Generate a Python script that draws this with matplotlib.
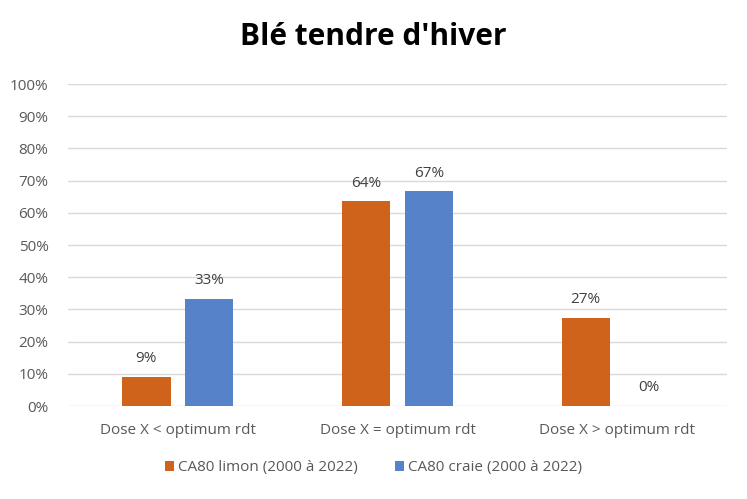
import matplotlib.pyplot as plt
from matplotlib.ticker import PercentFormatter
import numpy as np

# Data.
categories = ["Dose X < optimum rdt", "Dose X = optimum rdt", "Dose X > optimum rdt"]
limon      = [9.1, 63.6, 27.3]
craie      = [33.3, 66.7, 0.0]
series_names = ["CA80 limon (2000 à 2022)", "CA80 craie (2000 à 2022)"]

plt.rcParams['font.family'] = ['Open Sans', 'DejaVu Sans']

fig = plt.figure(figsize=(7.47, 4.99), dpi=100)
ax  = fig.add_axes([68/747, 1-406/499, 659/747, 322/499])

x      = np.arange(len(categories))
width  = 0.22
offset = 0.143
orange = "#D0631C"
blue   = "#5582C8"

bars1 = ax.bar(x - offset, limon, width, color=orange, label=series_names[0], zorder=3)
bars2 = ax.bar(x + offset, craie, width, color=blue, label=series_names[1], zorder=3)

for bars, vals in ((bars1, limon), (bars2, craie)):
  for b, v in zip(bars, vals):
    ax.text(b.get_x() + b.get_width()/2, v + 3.3, f"{v:.0f}%", ha='center', va='bottom',
            fontsize=11, color="#404040")

# Style the axes.
ax.set_xlim(-0.5, 2.5)
ax.set_ylim(0, 100)
ax.set_yticks(np.arange(0, 101, 10))
ax.yaxis.set_major_formatter(PercentFormatter(decimals=0))
ax.set_xticks(x)
ax.set_xticklabels(categories)
ax.grid(axis='y', color="#D9D9D9", linewidth=1, zorder=0)
for s in ax.spines.values():
  s.set_visible(False)
ax.tick_params(length=0, labelsize=11, labelcolor="#595959")
ax.tick_params(axis='x', pad=12)
ax.tick_params(axis='y', pad=14)

fig.suptitle("Blé tendre d'hiver", fontsize=21.5, fontweight='bold', y=0.955)

fig.legend(loc='center', bbox_to_anchor=(0.5, 1-468/499), ncol=2, frameon=False,
           fontsize=11, labelcolor="#595959", handlelength=0.6, handleheight=0.6,
           handletextpad=0.3, columnspacing=2.4)

fig.savefig("out.png", dpi=100)
